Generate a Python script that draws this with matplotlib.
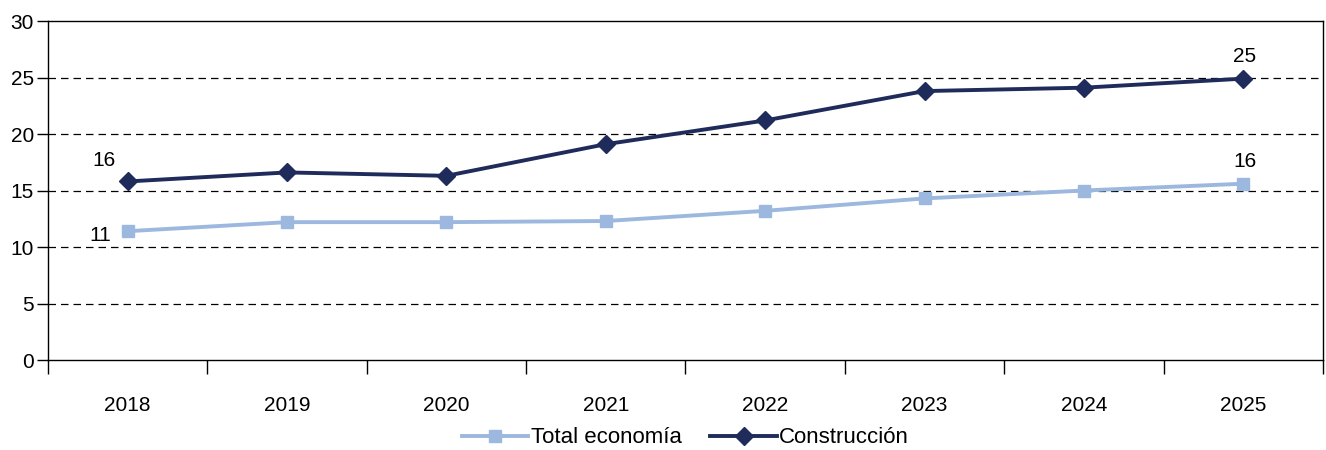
import matplotlib
matplotlib.use("Agg")
import matplotlib.pyplot as plt

plt.rcParams["font.family"] = ["Liberation Sans", "DejaVu Sans"]

YEARS = ["2018", "2019", "2020", "2021", "2022", "2023", "2024", "2025"]
TOTAL = [11.4, 12.2, 12.2, 12.3, 13.2, 14.3, 15.0, 15.6]
CONSTRUCCION = [15.8, 16.6, 16.3, 19.1, 21.2, 23.8, 24.1, 24.9]
LABELS = ["Total economía", "Construcción"]

C_LIGHT = "#9db8de"
C_DARK = "#1f2b5b"

fig = plt.figure(figsize=(13.26, 4.5), dpi=100)
ax = fig.add_axes([0.0362, 0.2, 0.9615, 0.7533])

x = list(range(len(YEARS)))
ax.plot(x, TOTAL, color=C_LIGHT, lw=2.8, marker="s", ms=9, mec=C_LIGHT,
        label=LABELS[0], zorder=4)
ax.plot(x, CONSTRUCCION, color=C_DARK, lw=2.8, marker="D", ms=9, mec=C_DARK,
        label=LABELS[1], zorder=5)

ax.set_xlim(-0.5, len(YEARS) - 0.5)
ax.set_ylim(0, 30)
ax.set_yticks(range(0, 31, 5))
for v in range(5, 30, 5):
    ax.axhline(v, color="black", lw=0.9, ls=(0, (6, 4)), zorder=1)

# category labels centered, tick marks at boundaries
ax.set_xticks(x)
ax.set_xticklabels(YEARS, fontsize=15)
ax.tick_params(axis="x", length=0, pad=26)
ax.set_xticks([i - 0.5 for i in range(len(YEARS) + 1)], minor=True)
ax.tick_params(axis="x", which="minor", length=10, width=1, direction="out")
ax.tick_params(axis="y", labelsize=15, length=8, width=1, pad=2)

for s in ax.spines.values():
    s.set_linewidth(1.0)
    s.set_color("black")

# value labels at the ends
fs = 15
ax.annotate(f"{CONSTRUCCION[0]:.0f}", (0, CONSTRUCCION[0]), textcoords="offset points",
            xytext=(-17, 8), ha="center", va="bottom", fontsize=fs)
ax.annotate(f"{TOTAL[0]:.0f}", (0, TOTAL[0]), textcoords="offset points",
            xytext=(-12, -3), ha="right", va="center", fontsize=fs)
ax.annotate(f"{CONSTRUCCION[-1]:.0f}", (7, CONSTRUCCION[-1]), textcoords="offset points",
            xytext=(1, 9), ha="center", va="bottom", fontsize=fs)
ax.annotate(f"{TOTAL[-1]:.0f}", (7, TOTAL[-1]), textcoords="offset points",
            xytext=(1, 9), ha="center", va="bottom", fontsize=fs)

ax.legend(loc="center", bbox_to_anchor=(0.5, -0.23), ncol=2, frameon=False,
          fontsize=16, handlelength=3.0, handletextpad=0.1, columnspacing=1.3,
          borderpad=0)

fig.savefig("out.png", dpi=100)
